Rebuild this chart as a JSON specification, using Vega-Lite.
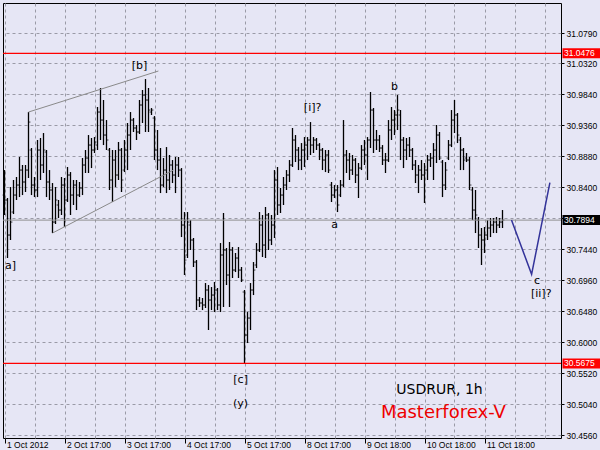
{
"$schema":"https://vega.github.io/schema/vega-lite/v6.json",
"width":558,"height":435,
"autosize":{"type":"none"},
"padding":{"left":3,"top":3,"right":39,"bottom":12},
"background":"#e6e6f5",
"config":{"view":{"stroke":"#000000","strokeWidth":1,"fill":"#e6e6f5"}},
"datasets":{
"bars":[
{"t":0,"o":30.8282,"h":30.8669,"l":30.7973,"c":30.8205},
{"t":1,"o":30.8205,"h":30.8236,"l":30.7307,"c":30.7663},
{"t":2,"o":30.7663,"h":30.8406,"l":30.7586,"c":30.7864},
{"t":3,"o":30.8019,"h":30.8515,"l":30.7988,"c":30.8282},
{"t":4,"o":30.8282,"h":30.8561,"l":30.8205,"c":30.8437},
{"t":5,"o":30.8437,"h":30.8871,"l":30.8251,"c":30.8669},
{"t":6,"o":30.8669,"h":30.8747,"l":30.8282,"c":30.8484},
{"t":7,"o":30.8484,"h":30.8747,"l":30.8329,"c":30.8669},
{"t":8,"o":30.8669,"h":30.9567,"l":30.8546,"c":30.9412},
{"t":9,"o":30.8979,"h":30.9010,"l":30.8282,"c":30.8437},
{"t":10,"o":30.8437,"h":30.8561,"l":30.8251,"c":30.8360},
{"t":11,"o":30.8360,"h":30.9134,"l":30.8251,"c":30.8979},
{"t":12,"o":30.8979,"h":30.9165,"l":30.8515,"c":30.8747},
{"t":13,"o":30.8747,"h":30.9242,"l":30.8623,"c":30.8979},
{"t":14,"o":30.8948,"h":30.8979,"l":30.8251,"c":30.8484},
{"t":15,"o":30.8484,"h":30.8669,"l":30.8205,"c":30.8360},
{"t":16,"o":30.8360,"h":30.8468,"l":30.7694,"c":30.7864},
{"t":17,"o":30.7864,"h":30.8406,"l":30.7834,"c":30.8205},
{"t":18,"o":30.8128,"h":30.8205,"l":30.7926,"c":30.8050},
{"t":19,"o":30.8050,"h":30.8561,"l":30.7973,"c":30.8437},
{"t":20,"o":30.8437,"h":30.8546,"l":30.7787,"c":30.8205},
{"t":21,"o":30.8205,"h":30.8716,"l":30.8174,"c":30.8592},
{"t":22,"o":30.8592,"h":30.8638,"l":30.7973,"c":30.8282},
{"t":23,"o":30.8282,"h":30.8515,"l":30.8128,"c":30.8437},
{"t":24,"o":30.8437,"h":30.8515,"l":30.8050,"c":30.8282},
{"t":25,"o":30.8282,"h":30.8484,"l":30.8251,"c":30.8391},
{"t":26,"o":30.8391,"h":30.8855,"l":30.8282,"c":30.8747},
{"t":27,"o":30.8747,"h":30.8979,"l":30.8623,"c":30.8855},
{"t":28,"o":30.8855,"h":30.9211,"l":30.8623,"c":30.9056},
{"t":29,"o":30.9056,"h":30.9165,"l":30.8700,"c":30.8979},
{"t":30,"o":30.8979,"h":30.9180,"l":30.8933,"c":30.9103},
{"t":31,"o":30.9056,"h":30.9645,"l":30.8979,"c":30.9567},
{"t":32,"o":30.9567,"h":30.9939,"l":30.9134,"c":30.9443},
{"t":33,"o":30.9443,"h":30.9753,"l":30.9056,"c":30.9211},
{"t":34,"o":30.9211,"h":30.9443,"l":30.8979,"c":30.9134},
{"t":35,"o":30.8979,"h":30.9010,"l":30.8360,"c":30.8515},
{"t":36,"o":30.8515,"h":30.8979,"l":30.8174,"c":30.8824},
{"t":37,"o":30.8824,"h":30.8979,"l":30.8406,"c":30.8592},
{"t":38,"o":30.8592,"h":30.9103,"l":30.8515,"c":30.8979},
{"t":39,"o":30.8979,"h":30.9010,"l":30.8329,"c":30.8515},
{"t":40,"o":30.8669,"h":30.9134,"l":30.8638,"c":30.8979},
{"t":41,"o":30.8979,"h":30.9397,"l":30.8669,"c":30.9211},
{"t":42,"o":30.9211,"h":30.9567,"l":30.8979,"c":30.9443},
{"t":43,"o":30.9443,"h":30.9474,"l":30.9258,"c":30.9320},
{"t":44,"o":30.9320,"h":30.9366,"l":30.9134,"c":30.9258},
{"t":45,"o":30.9258,"h":30.9753,"l":30.9227,"c":30.9676},
{"t":46,"o":30.9676,"h":30.9908,"l":30.9397,"c":30.9830},
{"t":47,"o":30.9830,"h":31.0078,"l":30.9258,"c":30.9753},
{"t":48,"o":30.9753,"h":30.9939,"l":30.9258,"c":30.9598},
{"t":49,"o":30.9567,"h":30.9629,"l":30.9521,"c":30.9598},
{"t":50,"o":30.9474,"h":30.9505,"l":30.8824,"c":30.8979},
{"t":51,"o":30.8979,"h":30.9289,"l":30.8669,"c":30.8824},
{"t":52,"o":30.8824,"h":30.9010,"l":30.8313,"c":30.8437},
{"t":53,"o":30.8437,"h":30.8855,"l":30.8406,"c":30.8669},
{"t":54,"o":30.8669,"h":30.9025,"l":30.8313,"c":30.8515},
{"t":55,"o":30.8515,"h":30.8902,"l":30.8360,"c":30.8747},
{"t":56,"o":30.8747,"h":30.8824,"l":30.8468,"c":30.8592},
{"t":57,"o":30.8592,"h":30.8871,"l":30.8313,"c":30.8747},
{"t":58,"o":30.8747,"h":30.8871,"l":30.8561,"c":30.8669},
{"t":59,"o":30.8669,"h":30.8700,"l":30.7632,"c":30.7818},
{"t":60,"o":30.7818,"h":30.8019,"l":30.7044,"c":30.7276},
{"t":61,"o":30.7354,"h":30.8019,"l":30.7307,"c":30.7864},
{"t":62,"o":30.7818,"h":30.7895,"l":30.7431,"c":30.7586},
{"t":63,"o":30.7586,"h":30.7617,"l":30.7168,"c":30.7245},
{"t":64,"o":30.7245,"h":30.7276,"l":30.6502,"c":30.6657},
{"t":65,"o":30.6657,"h":30.6703,"l":30.6549,"c":30.6611},
{"t":66,"o":30.6611,"h":30.6688,"l":30.6502,"c":30.6580},
{"t":67,"o":30.6580,"h":30.6920,"l":30.6533,"c":30.6812},
{"t":68,"o":30.6812,"h":30.6889,"l":30.6193,"c":30.6657},
{"t":69,"o":30.6657,"h":30.6858,"l":30.6502,"c":30.6734},
{"t":70,"o":30.6734,"h":30.6936,"l":30.6471,"c":30.6812},
{"t":71,"o":30.6812,"h":30.6843,"l":30.6502,"c":30.6580},
{"t":72,"o":30.6580,"h":30.7539,"l":30.6471,"c":30.7354},
{"t":73,"o":30.7354,"h":30.8004,"l":30.6549,"c":30.7431},
{"t":74,"o":30.7431,"h":30.7462,"l":30.6889,"c":30.7044},
{"t":75,"o":30.7044,"h":30.7555,"l":30.6549,"c":30.7431},
{"t":76,"o":30.7431,"h":30.7477,"l":30.6998,"c":30.7121},
{"t":77,"o":30.7121,"h":30.7385,"l":30.7090,"c":30.7307},
{"t":78,"o":30.7307,"h":30.7477,"l":30.6998,"c":30.7121},
{"t":79,"o":30.7121,"h":30.7168,"l":30.6936,"c":30.6967},
{"t":80,"o":30.6781,"h":30.6812,"l":30.5675,"c":30.6115},
{"t":81,"o":30.6115,"h":30.6471,"l":30.5991,"c":30.6378},
{"t":82,"o":30.6378,"h":30.6920,"l":30.6193,"c":30.6812},
{"t":83,"o":30.6812,"h":30.7245,"l":30.6734,"c":30.7121},
{"t":84,"o":30.7199,"h":30.7539,"l":30.7152,"c":30.7431},
{"t":85,"o":30.7431,"h":30.8019,"l":30.7400,"c":30.7818},
{"t":86,"o":30.7818,"h":30.7973,"l":30.7323,"c":30.7508},
{"t":87,"o":30.7508,"h":30.8097,"l":30.7307,"c":30.7973},
{"t":88,"o":30.7973,"h":30.8004,"l":30.7431,"c":30.7586},
{"t":89,"o":30.7586,"h":30.7973,"l":30.7508,"c":30.7818},
{"t":90,"o":30.7818,"h":30.8669,"l":30.7617,"c":30.8515},
{"t":91,"o":30.8515,"h":30.8716,"l":30.7973,"c":30.8128},
{"t":92,"o":30.8128,"h":30.8391,"l":30.8004,"c":30.8282},
{"t":93,"o":30.8282,"h":30.8561,"l":30.8128,"c":30.8437},
{"t":94,"o":30.8437,"h":30.8669,"l":30.8360,"c":30.8592},
{"t":95,"o":30.8592,"h":30.8824,"l":30.8484,"c":30.8747},
{"t":96,"o":30.8747,"h":30.9320,"l":30.8716,"c":30.9134},
{"t":97,"o":30.9134,"h":30.9211,"l":30.8793,"c":30.8979},
{"t":98,"o":30.8979,"h":30.9025,"l":30.8669,"c":30.8824},
{"t":99,"o":30.8824,"h":30.9087,"l":30.8669,"c":30.8979},
{"t":100,"o":30.8979,"h":30.9180,"l":30.8716,"c":30.9056},
{"t":101,"o":30.9056,"h":30.9180,"l":30.8824,"c":30.9134},
{"t":102,"o":30.9134,"h":30.9412,"l":30.8902,"c":30.9056},
{"t":103,"o":30.9056,"h":30.9180,"l":30.8933,"c":30.9134},
{"t":104,"o":30.9134,"h":30.9165,"l":30.8979,"c":30.9056},
{"t":105,"o":30.9056,"h":30.9087,"l":30.8824,"c":30.8979},
{"t":106,"o":30.8979,"h":30.9010,"l":30.8669,"c":30.8824},
{"t":107,"o":30.8824,"h":30.8979,"l":30.8638,"c":30.8902},
{"t":108,"o":30.8902,"h":30.8979,"l":30.8623,"c":30.8669},
{"t":109,"o":30.8437,"h":30.8484,"l":30.8174,"c":30.8282},
{"t":110,"o":30.8282,"h":30.8437,"l":30.8236,"c":30.8360},
{"t":111,"o":30.8360,"h":30.8437,"l":30.8019,"c":30.8128},
{"t":112,"o":30.8282,"h":30.8515,"l":30.8251,"c":30.8437},
{"t":113,"o":30.8437,"h":30.9443,"l":30.8406,"c":30.8902},
{"t":114,"o":30.8902,"h":30.8979,"l":30.8623,"c":30.8824},
{"t":115,"o":30.8824,"h":30.8933,"l":30.8515,"c":30.8669},
{"t":116,"o":30.8669,"h":30.8902,"l":30.8592,"c":30.8824},
{"t":117,"o":30.8824,"h":30.8855,"l":30.8468,"c":30.8592},
{"t":118,"o":30.8592,"h":30.8778,"l":30.8236,"c":30.8700},
{"t":119,"o":30.8700,"h":30.9056,"l":30.8669,"c":30.8979},
{"t":120,"o":30.8979,"h":30.9134,"l":30.8747,"c":30.8902},
{"t":121,"o":30.8902,"h":30.9180,"l":30.8515,"c":30.9134},
{"t":122,"o":30.9134,"h":30.9877,"l":30.9010,"c":30.9598},
{"t":123,"o":30.9598,"h":30.9629,"l":30.8933,"c":30.9134},
{"t":124,"o":30.9134,"h":30.9289,"l":30.8979,"c":30.9134},
{"t":125,"o":30.9134,"h":30.9211,"l":30.8948,"c":30.9010},
{"t":126,"o":30.9010,"h":30.9056,"l":30.8747,"c":30.8824},
{"t":127,"o":30.8824,"h":30.8933,"l":30.8623,"c":30.8824},
{"t":128,"o":30.8824,"h":30.9443,"l":30.8793,"c":30.9289},
{"t":129,"o":30.9289,"h":30.9645,"l":30.9134,"c":30.9443},
{"t":130,"o":30.9443,"h":30.9598,"l":30.9211,"c":30.9521},
{"t":131,"o":30.9521,"h":30.9830,"l":30.9289,"c":30.9598},
{"t":132,"o":30.9521,"h":30.9598,"l":30.8824,"c":30.9134},
{"t":133,"o":30.9134,"h":30.9180,"l":30.8700,"c":30.8979},
{"t":134,"o":30.8979,"h":30.9165,"l":30.8824,"c":30.9056},
{"t":135,"o":30.9056,"h":30.9180,"l":30.8871,"c":30.8979},
{"t":136,"o":30.8979,"h":30.9010,"l":30.8669,"c":30.8747},
{"t":137,"o":30.8747,"h":30.8824,"l":30.8468,"c":30.8592},
{"t":138,"o":30.8592,"h":30.8747,"l":30.8313,"c":30.8669},
{"t":139,"o":30.8669,"h":30.8824,"l":30.8515,"c":30.8592},
{"t":140,"o":30.8592,"h":30.8778,"l":30.8159,"c":30.8669},
{"t":141,"o":30.8669,"h":30.8902,"l":30.8515,"c":30.8824},
{"t":142,"o":30.8824,"h":30.8933,"l":30.8716,"c":30.8855},
{"t":143,"o":30.8855,"h":30.9087,"l":30.8515,"c":30.8979},
{"t":144,"o":30.8979,"h":30.9366,"l":30.8778,"c":30.9211},
{"t":145,"o":30.9211,"h":30.9258,"l":30.8824,"c":30.8855},
{"t":146,"o":30.8793,"h":30.8824,"l":30.8251,"c":30.8437},
{"t":147,"o":30.8437,"h":30.8793,"l":30.8360,"c":30.8669},
{"t":148,"o":30.8855,"h":30.9134,"l":30.8824,"c":30.9056},
{"t":149,"o":30.9056,"h":30.9598,"l":30.9025,"c":30.9443},
{"t":150,"o":30.9443,"h":30.9753,"l":30.9242,"c":30.9521},
{"t":151,"o":30.9521,"h":30.9552,"l":30.9087,"c":30.9211},
{"t":152,"o":30.9134,"h":30.9180,"l":30.8669,"c":30.8979},
{"t":153,"o":30.8979,"h":30.9010,"l":30.8669,"c":30.8824},
{"t":154,"o":30.8855,"h":30.8933,"l":30.8793,"c":30.8824},
{"t":155,"o":30.8824,"h":30.8871,"l":30.8360,"c":30.8437},
{"t":156,"o":30.8360,"h":30.8406,"l":30.7895,"c":30.8050},
{"t":157,"o":30.8050,"h":30.8360,"l":30.7694,"c":30.7973},
{"t":158,"o":30.7895,"h":30.7942,"l":30.7462,"c":30.7663},
{"t":159,"o":30.7663,"h":30.7772,"l":30.7199,"c":30.7586},
{"t":160,"o":30.7586,"h":30.7787,"l":30.7385,"c":30.7663},
{"t":161,"o":30.7663,"h":30.7895,"l":30.7586,"c":30.7772},
{"t":162,"o":30.7772,"h":30.7926,"l":30.7632,"c":30.7818},
{"t":163,"o":30.7818,"h":30.7926,"l":30.7694,"c":30.7864},
{"t":164,"o":30.7864,"h":30.7942,"l":30.7694,"c":30.7818},
{"t":165,"o":30.7818,"h":30.7926,"l":30.7772,"c":30.7864},
{"t":166,"o":30.7864,"h":30.8050,"l":30.7772,"c":30.7894}
],
"levels":[{"p":31.0476,"kind":"level"},{"p":30.5675,"kind":"level"},{"p":30.7894,"kind":"bid"}],
"channel":[
{"seg":"upper","t":8,"p":30.9567},{"seg":"upper","t":51.3,"p":31.0202},
{"seg":"lower","t":16,"p":30.7694},{"seg":"lower","t":56.3,"p":30.8669}
],
"wave":[{"t":169,"p":30.7895},{"t":175.7,"p":30.7055},{"t":181.8,"p":30.8473}],
"notes":[
{"t":2,"p":30.7183,"txt":"a]"},
{"t":45,"p":31.0279,"txt":"[b]"},
{"t":102.7,"p":30.9629,"txt":"[i]?"},
{"t":130,"p":30.9954,"txt":"b"},
{"t":110,"p":30.7818,"txt":"a"},
{"t":78.7,"p":30.5419,"txt":"[c]"},
{"t":78.7,"p":30.5047,"txt":"(y)"},
{"t":177.5,"p":30.6951,"txt":"c"},
{"t":178.9,"p":30.6750,"txt":"[ii]?"}
]
},
"layer":[
{
"data":{"name":"bars"},
"mark":{"type":"rule","color":"#000000","strokeWidth":1.3},
"encoding":{
"x":{"field":"t","type":"quantitative",
"scale":{"domain":[-0.5,185.5],"nice":false,"zero":false},
"axis":{"orient":"bottom","values":[0,10,20,30,40,50,60,70,80,90,100,110,120,130,140,150,160,170,180],"tickCount":40,
"grid":true,"gridColor":"#9a9aa6","gridDash":[3,3],"gridWidth":1,"domain":false,
"ticks":true,"tickSize":5,"tickColor":"#000000","tickOpacity":{"expr":"datum.value % 20 === 0 && datum.value <= 160 ? 1 : 0"},
"labelExpr":"datum.value % 20 === 0 && datum.value <= 160 ? ['1 Oct 2012','2 Oct 17:00','3 Oct 17:00','4 Oct 17:00','5 Oct 17:00','8 Oct 17:00','9 Oct 18:00','10 Oct 18:00','11 Oct 18:00'][datum.value/20] : ''",
"labelAlign":"left","labelBaseline":"top","labelPadding":-3,"labelOffset":2,
"labelFont":"Liberation Sans","labelFontSize":8.5,"labelColor":"#000000",
"labelOverlap":false,"labelFlush":false,"labelBound":false,"title":null}},
"y":{"field":"l","type":"quantitative",
"scale":{"domain":[30.4521,31.1255],"nice":false,"zero":false},
"axis":{"orient":"right","values":[30.456,30.504,30.552,30.6,30.648,30.696,30.744,30.792,30.84,30.888,30.936,30.984,31.032,31.079],"tickCount":40,
"labelExpr":"abs(datum.value - 30.792) < 0.0005 ? '' : format(datum.value, '.4f')",
"grid":true,"gridColor":"#9a9aa6","gridDash":[3,3],"gridWidth":1,"domain":false,
"tickSize":3,"tickColor":"#000000","labelPadding":2,"labelBaseline":"middle",
"labelFont":"Liberation Sans","labelFontSize":8.5,"labelColor":"#000000",
"labelOverlap":false,"labelFlush":false,"labelBound":false,"title":null}},
"y2":{"field":"h"}
}
},
{
"data":{"name":"bars"},
"mark":{"type":"tick","orient":"horizontal","color":"#000000","size":1.5,"thickness":1,"xOffset":-1.2},
"encoding":{"x":{"field":"t","type":"quantitative"},"y":{"field":"o","type":"quantitative"}}
},
{
"data":{"name":"bars"},
"mark":{"type":"tick","orient":"horizontal","color":"#000000","size":1.5,"thickness":1,"xOffset":1.2},
"encoding":{"x":{"field":"t","type":"quantitative"},"y":{"field":"c","type":"quantitative"}}
},
{
"data":{"name":"levels"},
"transform":[{"filter":"datum.kind === 'level'"}],
"mark":{"type":"rule","color":"#ff0000","strokeWidth":1.2},
"encoding":{"y":{"field":"p","type":"quantitative"}}
},
{
"data":{"name":"levels"},
"transform":[{"filter":"datum.kind === 'bid'"}],
"mark":{"type":"rule","color":"#909090","strokeWidth":1},
"encoding":{"y":{"field":"p","type":"quantitative"}}
},
{
"data":{"name":"channel"},
"mark":{"type":"line","color":"#8a8a8a","strokeWidth":1},
"encoding":{"x":{"field":"t","type":"quantitative"},"y":{"field":"p","type":"quantitative"},"detail":{"field":"seg"}}
},
{
"data":{"name":"wave"},
"mark":{"type":"line","color":"#33339a","strokeWidth":1.5},
"encoding":{"x":{"field":"t","type":"quantitative"},"y":{"field":"p","type":"quantitative"}}
},
{
"data":{"name":"notes"},
"mark":{"type":"text","font":"DejaVu Sans","fontSize":11,"color":"#000000","align":"center","baseline":"middle"},
"encoding":{"x":{"field":"t","type":"quantitative"},"y":{"field":"p","type":"quantitative"},"text":{"field":"txt"}}
},
{
"data":{"values":[{"t":145,"p":30.5264,"txt":"USDRUR, 1h"}]},
"mark":{"type":"text","font":"DejaVu Sans","fontSize":14,"color":"#000000","align":"center","baseline":"middle"},
"encoding":{"x":{"field":"t","type":"quantitative"},"y":{"field":"p","type":"quantitative"},"text":{"field":"txt"}}
},
{
"data":{"values":[{"t":146.3,"p":30.4908,"txt":"Masterforex-V"}]},
"mark":{"type":"text","font":"DejaVu Sans","fontSize":18,"color":"#ee0000","align":"center","baseline":"middle"},
"encoding":{"x":{"field":"t","type":"quantitative"},"y":{"field":"p","type":"quantitative"},"text":{"field":"txt"}}
},
{
"data":{"name":"levels"},
"mark":{"type":"rule","strokeWidth":10,"strokeCap":"butt","clip":false},
"encoding":{
"x":{"datum":186},"x2":{"datum":200},
"y":{"field":"p","type":"quantitative"},
"color":{"field":"kind","type":"nominal","scale":{"domain":["level","bid"],"range":["#ff0000","#000000"]},"legend":null}
}
},
{
"data":{"name":"levels"},
"mark":{"type":"text","font":"Liberation Sans","fontSize":8.5,"color":"#ffffff","align":"left","baseline":"middle","clip":false},
"encoding":{
"x":{"datum":186.5},
"y":{"field":"p","type":"quantitative"},
"text":{"field":"p","type":"quantitative","format":".4f"}
}
}
]
}
